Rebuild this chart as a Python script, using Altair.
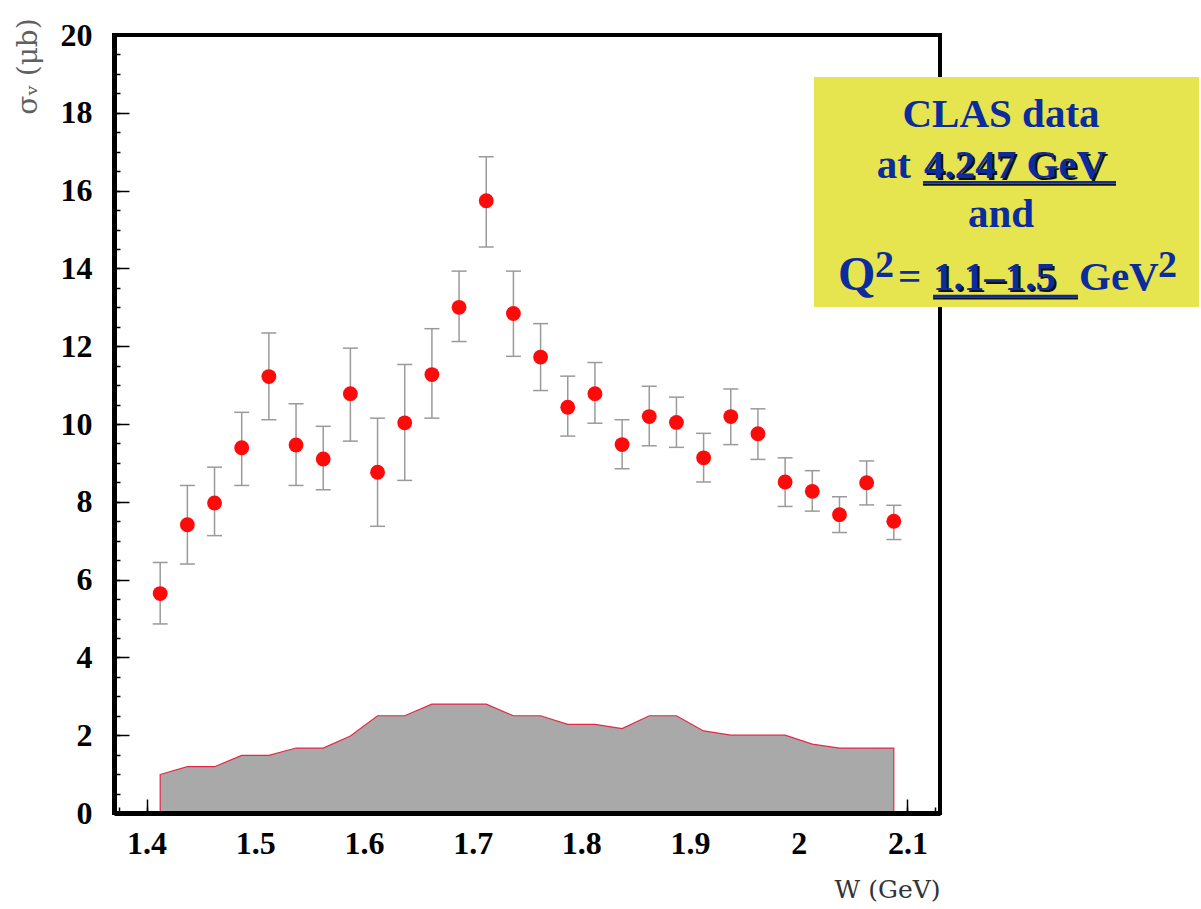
import altair as alt
import pandas as pd

# ---- data ----
W = [1.4125, 1.4375, 1.4625, 1.4875, 1.5125, 1.5375, 1.5625, 1.5875, 1.6125, 1.6375,
     1.6625, 1.6875, 1.7125, 1.7375, 1.7625, 1.7875, 1.8125, 1.8375, 1.8625, 1.8875,
     1.9125, 1.9375, 1.9625, 1.9875, 2.0125, 2.0375, 2.0625, 2.0875]
SIGMA = [5.64, 7.41, 7.97, 9.39, 11.22, 9.46, 9.10, 10.78, 8.76, 10.03,
         11.27, 13.00, 15.74, 12.84, 11.72, 10.43, 10.78, 9.47, 10.19, 10.04,
         9.13, 10.19, 9.75, 8.51, 8.27, 7.67, 8.49, 7.50]
ERR_HI = [6.44, 8.42, 8.89, 10.30, 12.34, 10.52, 9.94, 11.95, 10.15, 11.53,
          12.45, 13.93, 16.87, 13.93, 12.58, 11.23, 11.58, 10.11, 10.97, 10.69,
          9.76, 10.90, 10.39, 9.13, 8.80, 8.13, 9.05, 7.91]
ERR_LO = [4.86, 6.40, 7.13, 8.42, 10.11, 8.42, 8.31, 9.56, 7.37, 8.55,
          10.15, 12.12, 14.55, 11.74, 10.86, 9.69, 10.02, 8.85, 9.44, 9.40,
          8.51, 9.47, 9.09, 7.88, 7.76, 7.21, 7.92, 7.03]
SYS = [0.99, 1.19, 1.19, 1.48, 1.48, 1.67, 1.67, 1.98, 2.50, 2.50,
       2.80, 2.80, 2.80, 2.50, 2.50, 2.28, 2.28, 2.17, 2.50, 2.50,
       2.11, 2.00, 2.00, 2.00, 1.77, 1.67, 1.67, 1.67]

X_TICKS = [1.4, 1.5, 1.6, 1.7, 1.8, 1.9, 2.0, 2.1]
X_MINOR = [1.375 + 0.025 * i for i in range(31)]
Y_TICKS = [0, 2, 4, 6, 8, 10, 12, 14, 16, 18, 20]
Y_MINOR = [0.5 * i for i in range(41)]

X_TITLE = "W (GeV)"
Y_TITLE = "σᵥ (μb)"
BOX_LINE1 = "CLAS data"
BOX_AT = "at"
BOX_ENERGY = "4.247 GeV"
BOX_AND = "and"
BOX_Q = "Q"
BOX_SUP = "2"
BOX_EQ = "="
BOX_RANGE = "1.1–1.5"
BOX_GEV = "GeV"

BLUE = "#0b2c9e"
YELLOW = "#e6e44f"
SERIF = "Liberation Serif"

df = pd.DataFrame({"W": W, "sigma": SIGMA, "lo": ERR_LO, "hi": ERR_HI, "sys": SYS})
one = pd.DataFrame({"k": [0]})

XS = alt.Scale(domain=[1.37, 2.13], nice=False, zero=False)
YS = alt.Scale(domain=[0, 20], nice=False, zero=False)

x_label_axis = alt.Axis(
    orient="bottom", values=X_TICKS, format=".2~f", ticks=False, tickSize=0,
    domain=True, domainColor="black", domainWidth=5, grid=False,
    labelFont=SERIF, labelFontWeight="bold", labelFontSize=32, labelColor="black",
    labelPadding=15, labelOverlap=False, labelFlush=False,
    title=X_TITLE, titleFont="DejaVu Serif", titleFontWeight="normal", titleFontSize=25,
    titleColor="#333333", titleX=826, titleY=76, titleAlign="right", titleBaseline="middle",
    zindex=1,
)
y_label_axis = alt.Axis(
    orient="left", values=Y_TICKS, ticks=False, tickSize=0,
    domain=True, domainColor="black", domainWidth=5, grid=False,
    labelFont=SERIF, labelFontWeight="bold", labelFontSize=32, labelColor="black",
    labelPadding=22, labelOverlap=False, labelFlush=False, labelBaseline="middle",
    title=Y_TITLE, titleFont="DejaVu Serif", titleFontWeight="normal", titleFontSize=28,
    titleColor="#606060", titleX=-86, titleY=31, titleAngle=270,
    titleAlign="center", titleBaseline="middle",
    zindex=1,
)
x_major_axis = alt.Axis(orient="bottom", values=X_TICKS, labels=False, domain=False, grid=False,
                        ticks=True, tickSize=14, offset=-14, tickColor="black", tickWidth=1.5, title=None)
y_major_axis = alt.Axis(orient="left", values=Y_TICKS, labels=False, domain=False, grid=False,
                        ticks=True, tickSize=15, offset=-15, tickColor="black", tickWidth=1.5, title=None)
x_minor_axis = alt.Axis(orient="bottom", values=X_MINOR, labels=False, domain=False, grid=False,
                        ticks=True, tickSize=6, offset=-6, tickColor="black", tickWidth=1.5, title=None)
y_minor_axis = alt.Axis(orient="left", values=Y_MINOR, labels=False, domain=False, grid=False,
                        ticks=True, tickSize=6, offset=-6, tickColor="black", tickWidth=1.5, title=None)

base = alt.Chart(df)

band = base.mark_area(fill="#a9a9a9", stroke="#e3284a", strokeWidth=1.2, opacity=1,
                      interpolate="linear").encode(
    x=alt.X("W:Q", scale=XS, axis=x_label_axis),
    y=alt.Y("sys:Q", scale=YS, axis=y_label_axis),
)

bars = base.mark_rule(color="#9a9a9a", strokeWidth=1.5).encode(
    x=alt.X("W:Q", scale=XS, axis=x_major_axis),
    y=alt.Y("lo:Q", scale=YS, axis=y_major_axis),
    y2="hi:Q",
)

cap_lo = base.mark_tick(orient="horizontal", size=15, thickness=1.5, color="#9a9a9a", opacity=1).encode(
    x=alt.X("W:Q", scale=XS, axis=x_minor_axis),
    y=alt.Y("lo:Q", scale=YS, axis=y_minor_axis),
)
cap_hi = base.mark_tick(orient="horizontal", size=15, thickness=1.5, color="#9a9a9a", opacity=1).encode(
    x=alt.X("W:Q", scale=XS, axis=None),
    y=alt.Y("hi:Q", scale=YS, axis=None),
)

points = base.mark_circle(size=220, color="#ff0a0a", opacity=1).encode(
    x=alt.X("W:Q", scale=XS, axis=None),
    y=alt.Y("sigma:Q", scale=YS, axis=None),
)

ob = alt.Chart(one)
box = ob.mark_rect(color=YELLOW).encode(
    x=alt.value(700), x2=alt.value(1085), y=alt.value(42), y2=alt.value(272))


def txt(s, x, y, size=41, align="left", color=BLUE):
    return ob.mark_text(text=s, font=SERIF, fontWeight="bold", fontSize=size, align=align,
                        baseline="alphabetic", color=color).encode(x=alt.value(x), y=alt.value(y))


def uline(x1, x2, y, color, w):
    return ob.mark_rule(color=color, strokeWidth=w).encode(
        x=alt.value(x1), x2=alt.value(x2), y=alt.value(y))


annot = [
    box,
    txt(BOX_LINE1, 887, 92, align="center"),
    txt(BOX_AT, 797, 142.5, align="right"),
    txt(BOX_ENERGY, 812, 144.5, color="#101010"),
    txt(BOX_ENERGY, 810, 142.5),
    uline(809, 1002, 149.7, "#101010", 2.2),
    uline(809, 1002, 147.3, BLUE, 2.6),
    txt(BOX_AND, 887, 192, align="center"),
    txt(BOX_Q, 724, 255, size=48),
    txt(BOX_SUP, 761, 242, size=38),
    txt(BOX_EQ, 784, 255),
    txt(BOX_RANGE, 821, 257, color="#101010"),
    txt(BOX_RANGE, 819, 255),
    uline(819, 964, 263.3, "#101010", 2.2),
    uline(819, 964, 261.0, BLUE, 2.6),
    txt(BOX_GEV, 965, 255),
    txt(BOX_SUP, 1044, 242, size=38),
]

chart = alt.layer(band, bars, cap_lo, cap_hi, points, *annot).resolve_scale(
    x="independent", y="independent"
).properties(
    width=826, height=778,
    autosize=alt.AutoSizeParams(type="none"),
    padding={"left": 114, "top": 35, "right": 261, "bottom": 96},
    background="white",
).configure_view(stroke="black", strokeWidth=4)

chart.save("out.html", embed_options={"renderer": "svg", "actions": False})
